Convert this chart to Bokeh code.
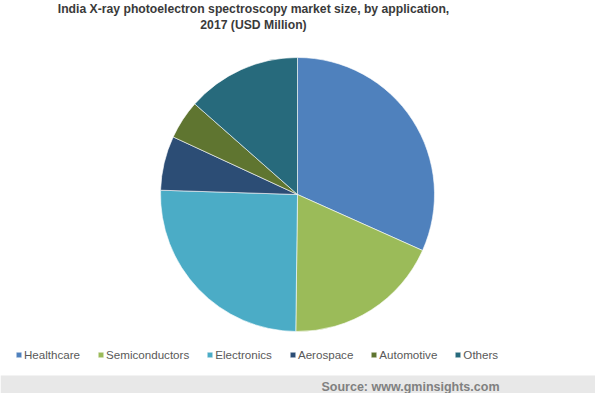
import numpy as np
from bokeh.plotting import figure
from bokeh.models import Legend, LegendItem
from bokeh.core.properties import value
from bokeh.embed import file_html
from bokeh.resources import INLINE

# Data (share of India XPS market by application, 2017)
categories = ["Healthcare", "Semiconductors", "Electronics", "Aerospace", "Automotive", "Others"]
shares = [31.7, 18.5, 25.3, 6.4, 4.6, 13.5]
colors = ["#4F81BD", "#9BBB59", "#4BACC6", "#2C4D75", "#5F7530", "#276A7C"]

title_lines = ["India X-ray photoelectron spectroscopy market size, by application,",
               "2017 (USD Million)"]
source_text = "Source: www.gminsights.com"

W, H = 595, 393
p = figure(width=W, height=H, x_range=(0, W), y_range=(0, H),
           output_backend="svg", toolbar_location=None, min_border=0,
           tools="")
p.xaxis.visible = False
p.yaxis.visible = False
p.grid.visible = False
p.outline_line_color = None
p.background_fill_color = "white"
p.border_fill_color = "white"

vals = np.array(shares, dtype=float)
frac = vals / vals.sum()
cum = np.concatenate([[0.0], np.cumsum(frac)])
start = np.pi / 2 - cum[:-1] * 2 * np.pi
end = np.pi / 2 - cum[1:] * 2 * np.pi

cx, cy, r = 297, 199, 137

items = []
for i, c in enumerate(categories):
    rr = p.wedge(x=cx, y=cy, radius=r, start_angle=start[i], end_angle=end[i],
                 direction="clock", fill_color=colors[i], line_color="white",
                 line_width=0.6)
    items.append(LegendItem(label=c, renderers=[rr]))

legend = Legend(items=items, orientation="horizontal", location=(15, 32),
                glyph_width=7, glyph_height=7, label_standoff=2, spacing=17,
                padding=0, margin=0, border_line_color=None,
                background_fill_alpha=0, label_text_font="Liberation Sans",
                label_text_font_size="11.6px", label_text_color="#595959",
                label_height=14)
p.add_layout(legend, "center")

# Title
p.text(x=[253, 253], y=[385, 369], text=title_lines,
       text_font=value("Liberation Sans"), text_font_style="bold",
       text_font_size="12.2px", text_color="#3a3a3a",
       text_align="center", text_baseline="middle")

# Source band
p.quad(left=[0], right=[W], bottom=[0], top=[18], fill_color="#e8e8e8", line_color=None)
p.text(x=[499], y=[7], text=[source_text],
       text_font=value("Liberation Sans"), text_font_style="bold",
       text_font_size="12.5px", text_color="#808080",
       text_align="right", text_baseline="middle")

open("out.html", "w").write(file_html(p, INLINE))
